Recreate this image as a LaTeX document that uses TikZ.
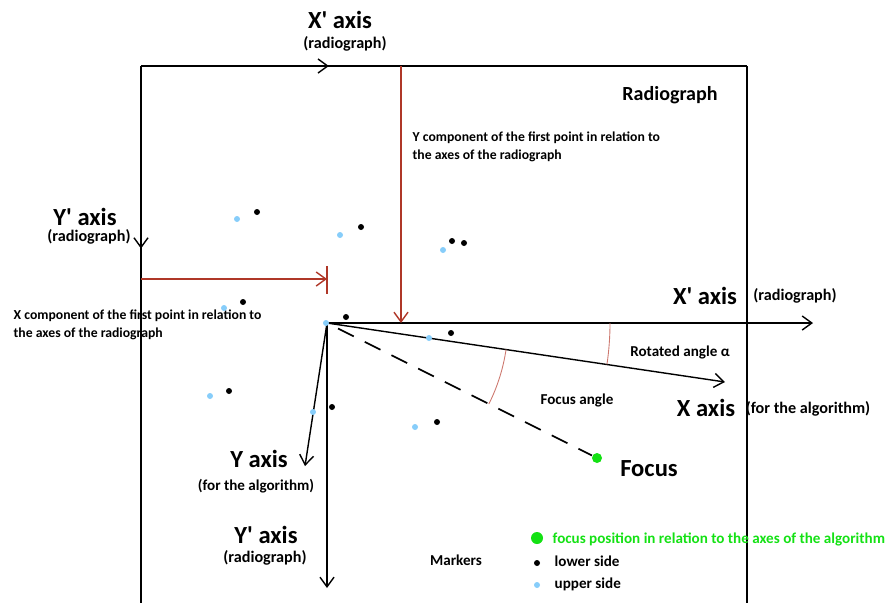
\documentclass[tikz,border=0pt]{standalone}
\usepackage{fontspec}
\setmainfont{Carlito}
\usetikzlibrary{arrows.meta}
\usetikzlibrary{decorations.markings}
\definecolor{comp}{RGB}{175,55,40}
\definecolor{anglecol}{RGB}{205,120,110}
\definecolor{markerblue}{RGB}{135,205,250}
\definecolor{focusgreen}{RGB}{20,225,20}
\tikzstyle{lowdot}=[circle, inner sep=0pt, minimum size=1.2mm, fill=black]
\tikzstyle{updot}=[circle, inner sep=0pt, minimum size=1.2mm, fill=markerblue]
\tikzstyle{focusdot}=[circle, inner sep=0pt, minimum size=2mm, fill=focusgreen]
\tikzstyle{bigtxt}=[inner sep=0pt, font=\fontsize{14}{16}\selectfont\bfseries]
\tikzstyle{subtxt}=[inner sep=0pt, font=\fontsize{9.2}{11}\selectfont\bfseries]
\tikzstyle{note}=[inner sep=0pt, align=left, font=\fontsize{7.8}{10.2}\selectfont\bfseries]
\tikzstyle{keytxt}=[inner sep=0pt, font=\fontsize{8.6}{10}\selectfont\bfseries]
\tikzset{midarrow/.style={postaction={decorate},
  decoration={markings, mark=at position #1 with {\arrow{>}}}}}
\newcommand{\pr}{\textquotesingle}

\begin{document}
\begin{tikzpicture}[x=0.02cm, y=-0.02cm, line width=0.8pt,
    >={Straight Barb[length=5.5pt, width=8pt]}]
    \useasboundingbox (0,0) rectangle (888,603);

    % radiograph frame
    \coordinate (tl) at (141,66);
    \coordinate (tr) at (747,66);
    \coordinate (bl) at (141,603);
    \coordinate (br) at (747,603);
    \draw[midarrow=0.31] (tl) -- (tr);
    \draw[midarrow=0.34] (tl) -- (bl);
    \draw (tr) -- (br);

    \node[bigtxt] (xptop) at (340,20) {X\pr{} axis};
    \node[subtxt] (xptopsub) at (345,44) {(radiograph)};
    \node[bigtxt] (ypleft) at (85,217) {Y\pr{} axis};
    \node[subtxt] (ypleftsub) at (89,237) {(radiograph)};
    \node[inner sep=0pt, font=\fontsize{11.4}{13}\selectfont\bfseries] (radio) at (670,95) {Radiograph};

    % axes
    \coordinate (O) at (327,323);
    \coordinate (xpend) at (813,323);
    \coordinate (xend) at (725,382);
    \coordinate (yend) at (305,466);
    \coordinate (ypend) at (327,588);
    \node[focusdot] (focus) at (597,458) {};
    \draw[->] (O) -- (xpend);
    \draw[->] (O) -- (xend);
    \draw[->] (O) -- (yend);
    \draw[->] (O) -- (ypend);
    \draw[line width=1pt, dash pattern=on 10pt off 7pt, dash phase=10pt] (O) -- (focus);

    % components of the first point
    \coordinate (ycomp) at (401,66);
    \coordinate (ycompend) at (401,323);
    \draw[comp, ->] (ycomp) -- (ycompend);
    \coordinate (xcomp) at (141,279);
    \coordinate (xcompend) at (327,279);
    \draw[comp, ->] (xcomp) -- (xcompend);
    \draw[comp] ([yshift=7.5pt]xcompend) -- ([yshift=-8.5pt]xcompend);
    \node[note, anchor=west] (ycomptxt) at (412,147) {Y component of the first point in relation to\\the axes of the radiograph};
    \node[note, anchor=west] (xcomptxt) at (13,325) {X component of the first point in relation to\\the axes of the radiograph};

    % angles
    \draw[anglecol, line width=0.5pt] ([shift={(0:283)}]O) arc[start angle=0, end angle=8.4, radius=283];
    \draw[anglecol, line width=0.5pt] ([shift={(8.4:181)}]O) arc[start angle=8.4, end angle=26.6, radius=181];
    \node[keytxt] (rottxt) at (680,352) {Rotated angle α};
    \node[keytxt] (focangtxt) at (577,400) {Focus angle};

    \node[bigtxt] (xpright) at (705,296) {X\pr{} axis};
    \node[subtxt] (xprightsub) at (795,296) {(radiograph)};
    \node[bigtxt] (xright) at (706,408) {X axis};
    \node[subtxt] (xrightsub) at (808,409) {(for the algorithm)};
    \node[bigtxt] (ylow) at (259,459) {Y axis};
    \node[subtxt, font=\fontsize{8.6}{10}\selectfont\bfseries] (ylowsub) at (256,486) {(for the algorithm)};
    \node[bigtxt] (yplow) at (266,535) {Y\pr{} axis};
    \node[subtxt] (yplowsub) at (265,558) {(radiograph)};
    \node[bigtxt] (focustxt) at (649,469) {Focus};

    % markers
    \foreach \ux/\uy/\lx/\ly [count=\i] in {237/219/257/212, 340/235/361/227, 443/250/452/241,
        224/308/243/302, 326/323/346/317, 429/338/451/333, 210/396/229/391,
        313/412/332/407, 415/427/437/422}{
        \node[updot] (up\i) at (\ux,\uy) {};
        \node[lowdot] (low\i) at (\lx,\ly) {};
        }
    \node[lowdot] (lowextra) at (464,243) {};

    % legend
    \node[keytxt] (markers) at (456,560) {Markers};
    \node[focusdot, minimum size=2.4mm] (keyfocus) at (537,538) {};
    \node[keytxt, anchor=west, text=focusgreen] (keyfocustxt) at (552,539) {focus position in relation to the axes of the algorithm};
    \node[lowdot] (keylow) at (537,563) {};
    \node[keytxt, anchor=west] (keylowtxt) at (554,561) {lower side};
    \node[updot] (keyup) at (537,585) {};
    \node[keytxt, anchor=west] (keyuptxt) at (554,584) {upper side};
\end{tikzpicture}
\end{document}
